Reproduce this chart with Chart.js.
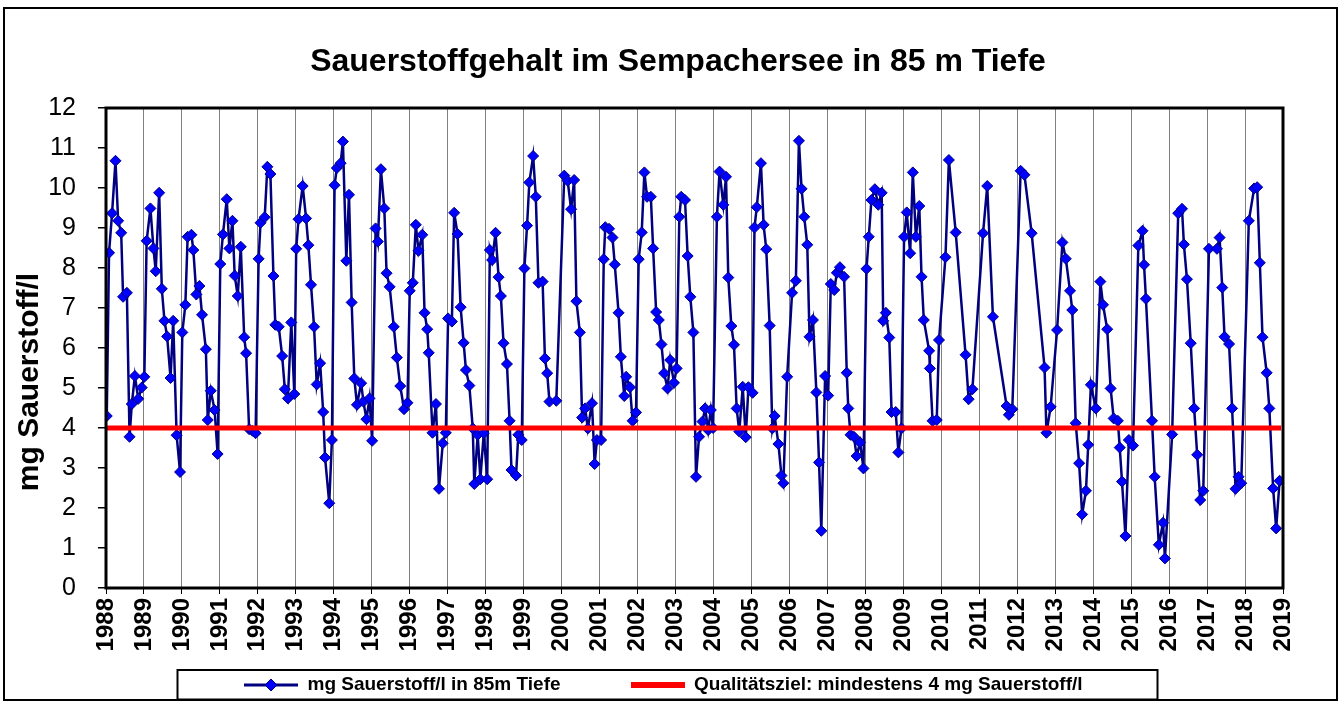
<!DOCTYPE html>
<html>
<head>
<meta charset="utf-8">
<script src="https://cdn.jsdelivr.net/npm/chart.js@4.4.1/dist/chart.umd.min.js"></script>
<style>
  html, body { margin: 0; padding: 0; background: #ffffff; }
  #wrap { position: relative; width: 1344px; height: 704px; }
</style>
</head>
<body>
<div id="wrap"><canvas id="c"></canvas></div>
<script>
// ---------- data ----------
const chartTitle = 'Sauerstoffgehalt im Sempachersee in 85 m Tiefe';
const yAxisTitle = 'mg Sauerstoff/l';
const seriesLabel = 'mg Sauerstoff/l in 85m Tiefe';
const targetLabel = 'Qualitätsziel: mindestens 4 mg Sauerstoff/l';
const yearTicks = [1988,1989,1990,1991,1992,1993,1994,1995,1996,1997,1998,1999,2000,2001,2002,2003,2004,2005,2006,2007,2008,2009,2010,2011,2012,2013,2014,2015,2016,2017,2018,2019];
const valueTicks = [0,1,2,3,4,5,6,7,8,9,10,11,12];
const targetValue = 4;
const targetSpan = [1988, 2018.95];

// sampling dates (decimal years)
const sampleDates = [
  1988.02,1988.08,1988.16,1988.25,1988.32,1988.40,1988.45,1988.55,1988.62,1988.68,1988.76,1988.85,1988.94,
  1989.01,1989.07,1989.17,1989.25,1989.31,1989.40,1989.47,1989.54,1989.61,1989.70,1989.77,1989.86,1989.95,
  1990.01,1990.09,1990.15,1990.25,1990.30,1990.38,1990.46,1990.53,1990.63,1990.68,1990.76,1990.86,1990.94,
  1991.01,1991.08,1991.18,1991.25,1991.33,1991.39,1991.47,1991.55,1991.64,1991.69,1991.77,1991.86,1991.94,
  1992.02,1992.07,1992.18,1992.25,1992.33,1992.41,1992.46,1992.55,1992.64,1992.71,1992.79,1992.88,1992.96,
  1993.01,1993.07,1993.18,1993.27,1993.33,1993.40,1993.48,1993.55,1993.64,1993.72,1993.77,1993.88,1993.95,
  1994.02,1994.08,1994.18,1994.24,1994.33,1994.40,1994.47,1994.54,1994.61,1994.72,1994.78,1994.86,1994.94,
  1995.01,1995.10,1995.16,1995.24,1995.33,1995.39,1995.47,1995.58,1995.66,1995.75,1995.85,1995.94,
  1996.00,1996.08,1996.16,1996.23,1996.33,1996.39,1996.46,1996.50,1996.60,1996.69,1996.77,1996.87,1996.95,
  1997.01,1997.11,1997.17,1997.26,1997.34,1997.42,1997.48,1997.57,1997.66,1997.70,1997.79,1997.86,1997.95,
  1998.04,1998.11,1998.17,1998.26,1998.34,1998.40,1998.47,1998.56,1998.63,1998.68,1998.80,1998.86,1998.95,
  1999.02,1999.09,1999.15,1999.25,1999.32,1999.39,1999.50,1999.56,1999.62,1999.68,1999.86,
  2000.07,2000.16,2000.25,2000.33,2000.39,2000.48,2000.54,2000.62,2000.69,2000.80,2000.87,2000.93,
  2001.04,2001.11,2001.15,2001.25,2001.34,2001.40,2001.50,2001.56,2001.65,2001.70,2001.80,2001.87,2001.96,
  2002.03,2002.11,2002.18,2002.25,2002.35,2002.41,2002.49,2002.56,2002.63,2002.70,2002.79,2002.86,2002.96,
  2003.03,2003.10,2003.15,2003.25,2003.32,2003.39,2003.47,2003.54,2003.62,2003.71,2003.78,2003.86,2003.93,2003.99,
  2004.09,2004.16,2004.26,2004.33,2004.39,2004.47,2004.54,2004.61,2004.68,2004.77,2004.85,2004.92,
  2005.03,2005.08,2005.14,2005.25,2005.32,2005.39,2005.48,2005.55,2005.61,2005.71,2005.79,2005.84,2005.94,
  2006.07,2006.17,2006.25,2006.32,2006.39,2006.47,2006.53,2006.62,2006.71,2006.78,2006.84,2006.94,
  2007.02,2007.09,2007.18,2007.25,2007.33,2007.44,2007.51,2007.55,2007.61,2007.70,2007.77,2007.86,2007.95,
  2008.03,2008.09,2008.16,2008.25,2008.34,2008.43,2008.47,2008.54,2008.63,2008.69,2008.80,2008.87,2008.95,
  2009.02,2009.09,2009.18,2009.25,2009.33,2009.42,2009.48,2009.54,2009.68,2009.70,2009.77,2009.88,2009.94,
  2010.11,2010.20,2010.38,2010.64,2010.72,2010.82,
  2011.10,2011.21,2011.36,2011.72,2011.78,2011.87,
  2012.09,2012.19,2012.38,2012.72,2012.77,2012.88,
  2013.05,2013.19,2013.28,2013.39,2013.45,2013.54,2013.63,2013.71,2013.81,2013.87,2013.94,
  2014.07,2014.19,2014.26,2014.37,2014.46,2014.54,2014.65,2014.70,2014.76,2014.85,2014.94,
  2015.05,2015.19,2015.30,2015.34,2015.39,2015.55,2015.62,2015.73,2015.84,2015.89,
  2016.08,2016.24,2016.34,2016.39,2016.47,2016.57,2016.66,2016.74,2016.82,2016.90,
  2017.05,2017.26,2017.33,2017.40,2017.46,2017.58,2017.66,2017.75,2017.83,2017.90,
  2018.10,2018.24,2018.32,2018.39,2018.46,2018.57,2018.64,2018.74,2018.82,2018.91
];

// mg O2 per litre at 85 m depth
const oxygenMgL = [
  4.30,8.38,9.37,10.68,9.18,8.88,7.28,7.38,3.78,4.60,5.30,4.73,5.01,
  5.28,8.68,9.49,8.49,7.92,9.88,7.48,6.68,6.29,5.25,6.68,3.82,2.90,
  6.39,7.08,8.78,8.83,8.45,7.34,7.55,6.83,5.97,4.20,4.93,4.45,3.35,
  8.10,8.84,9.72,8.49,9.18,7.81,7.30,8.53,6.27,5.87,3.97,3.93,3.87,
  8.23,9.13,9.27,10.53,10.35,7.80,6.58,6.53,5.80,4.97,4.74,6.64,4.85,
  8.48,9.22,10.05,9.24,8.57,7.58,6.53,5.09,5.62,4.40,3.26,2.12,3.70,
  10.07,10.50,10.62,11.16,8.18,9.83,7.14,5.24,4.58,5.12,4.66,4.22,4.74,
  3.68,8.99,8.66,10.47,9.49,7.87,7.53,6.53,5.76,5.05,4.47,4.63,
  7.43,7.63,9.08,8.43,8.83,6.88,6.47,5.88,3.88,4.60,2.48,3.62,3.88,
  6.74,6.66,9.38,8.85,7.02,6.13,5.45,5.06,3.99,2.60,3.83,2.72,3.87,
  2.72,8.45,8.20,8.88,7.77,7.30,6.12,5.60,4.18,2.95,2.81,3.83,3.70,
  7.99,9.06,10.14,10.80,9.78,7.63,7.66,5.74,5.37,4.66,4.68,
  10.31,10.18,9.47,10.20,7.17,6.39,4.26,4.49,3.99,4.62,3.10,3.70,
  3.70,8.22,9.02,8.98,8.76,8.09,6.88,5.78,4.80,5.28,5.02,4.18,4.39,
  8.22,8.89,10.39,9.78,9.78,8.49,6.90,6.70,6.09,5.37,4.99,5.70,5.13,
  5.49,9.28,9.78,9.70,8.30,7.28,6.39,2.78,3.78,4.16,4.49,3.95,4.45,4.00,
  9.28,10.41,9.58,10.28,7.76,6.55,6.08,4.49,3.91,5.03,3.77,5.02,
  4.88,9.01,9.52,10.62,9.08,8.47,6.56,3.99,4.30,3.60,2.81,2.62,5.28,
  7.38,7.68,11.18,9.98,9.28,8.58,6.28,6.70,4.89,3.14,1.43,5.30,
  4.81,7.60,7.45,7.88,8.02,7.78,5.38,4.49,3.83,3.78,3.30,3.64,2.99,
  7.98,8.78,9.70,9.97,9.58,9.88,6.68,6.88,6.26,4.40,4.40,3.39,3.99,
  8.78,9.39,8.37,10.39,8.78,9.55,7.78,6.70,5.93,5.49,4.18,4.20,6.20,
  8.27,10.70,8.89,5.83,4.72,4.97,
  8.87,10.05,6.78,4.55,4.33,4.47,
  10.43,10.33,8.87,5.51,3.88,4.53,
  6.45,8.64,8.23,7.43,6.95,4.12,3.12,1.84,2.43,3.58,5.08,
  4.49,7.66,7.08,6.47,4.99,4.24,4.18,3.51,2.66,1.30,3.70,
  3.56,8.56,8.93,8.08,7.23,4.18,2.78,1.08,1.63,0.74,
  3.84,9.37,9.48,8.59,7.72,6.12,4.49,3.33,2.20,2.43,
  8.48,8.48,8.76,7.51,6.28,6.10,4.49,2.48,2.78,2.62,
  9.18,9.99,10.02,8.13,6.27,5.38,4.49,2.49,1.49,2.68
];

// ---------- styling ----------
const FONT = "'Liberation Sans', Arial, Helvetica, sans-serif";
Chart.defaults.font.family = FONT;
Chart.defaults.color = '#000000';

function makeBlueIcon() {
  const c = document.createElement('canvas');
  c.width = 54; c.height = 16;
  const g = c.getContext('2d');
  g.strokeStyle = '#000080'; g.lineWidth = 3;
  g.beginPath(); g.moveTo(0, 8); g.lineTo(54, 8); g.stroke();
  g.beginPath();
  g.moveTo(27, 2); g.lineTo(33, 8); g.lineTo(27, 14); g.lineTo(21, 8); g.closePath();
  g.fillStyle = '#0000FF'; g.fill();
  g.lineWidth = 1; g.strokeStyle = '#000080'; g.stroke();
  return c;
}
function makeRedIcon() {
  const c = document.createElement('canvas');
  c.width = 54; c.height = 6;
  const g = c.getContext('2d');
  g.fillStyle = '#FF0000'; g.fillRect(0, 0, 54, 6);
  return c;
}
const blueIcon = makeBlueIcon();
const redIcon = makeRedIcon();

const LEG_PAD = 70;
const Y_TITLE_SHIFT = 34;

const framePlugin = {
  id: 'frame',
  beforeDraw(chart) {
    const ctx = chart.ctx;
    ctx.save();
    ctx.fillStyle = '#ffffff';
    ctx.fillRect(0, 0, chart.width, chart.height);
    ctx.restore();
  },
  afterLayout(chart) {
    const t = chart.titleBlock;
    if (t) {
      const lh = t.options.font.size * 1.2;
      t.top = 62.5 - lh / 2; t.bottom = t.top + lh;
      t.left = 678 - 620; t.right = 678 + 620;
      t.width = t.right - t.left; t.height = t.bottom - t.top;
    }
    const lg = chart.legend;
    if (lg) {
      lg.left = 244 - LEG_PAD; lg.right = 1340;
      lg.top = 685 - LEG_PAD - 9.5; lg.bottom = 704;
      lg.width = lg.right - lg.left; lg.height = lg.bottom - lg.top;
    }
    const ys = chart.scales.y;
    if (ys && !ys._titleShifted) {
      const orig = ys.drawTitle.bind(ys);
      ys.drawTitle = function () {
        const t0 = this.top;
        this.top = t0 + 2 * Y_TITLE_SHIFT;
        orig();
        this.top = t0;
      };
      ys._titleShifted = true;
    }
  },
  afterDatasetsDraw(chart) {
    const {ctx, chartArea: a} = chart;
    ctx.save();
    ctx.strokeStyle = '#000000';
    ctx.lineWidth = 3;
    ctx.strokeRect(a.left, a.top, a.right - a.left, a.bottom - a.top);
    ctx.restore();
  },
  afterDraw(chart) {
    const ctx = chart.ctx;
    ctx.save();
    ctx.strokeStyle = '#000000';
    ctx.lineWidth = 2;
    ctx.strokeRect(4, 8, 1333, 692);
    ctx.strokeRect(177.5, 670, 980, 29.5);
    ctx.restore();
  }
};

const blueData = sampleDates.map((d, i) => ({x: d, y: oxygenMgL[i]}));
const redData = targetSpan.map(d => ({x: d, y: targetValue}));

new Chart(document.getElementById('c'), {
  type: 'scatter',
  data: {
    datasets: [
      {
        label: targetLabel,
        data: redData,
        showLine: true,
        borderColor: '#FF0000',
        backgroundColor: '#FF0000',
        borderWidth: 5,
        pointRadius: 0,
        pointHoverRadius: 0
      },
      {
        label: seriesLabel,
        data: blueData,
        showLine: true,
        borderColor: '#000080',
        backgroundColor: '#0000FF',
        borderWidth: 2.5,
        tension: 0,
        pointStyle: 'rectRot',
        pointRadius: 5.5,
        pointBackgroundColor: '#0000FF',
        pointBorderColor: '#000080',
        pointBorderWidth: 1
      }
    ]
  },
  options: {
    responsive: true,
    maintainAspectRatio: false,
    animation: false,
    events: [],
    devicePixelRatio: 1,
    layout: { padding: { left: 0, right: 61, top: 108 - 32 * 1.2, bottom: 0 } },
    plugins: {
      tooltip: { enabled: false },
      title: {
        display: true,
        text: chartTitle,
        color: '#000000',
        font: { size: 32, weight: 'bold', family: FONT },
        padding: 0
      },
      legend: {
        display: true,
        position: 'bottom',
        align: 'start',
        maxHeight: 1,
        labels: {
          usePointStyle: true,
          pointStyleWidth: 54,
          boxHeight: 19,
          padding: LEG_PAD,
          color: '#000000',
          font: { size: 19, weight: 'bold', family: FONT },
          generateLabels: () => [
            { text: seriesLabel, pointStyle: blueIcon, fillStyle: '#0000FF', strokeStyle: '#000080', lineWidth: 0, hidden: false, datasetIndex: 1, fontColor: '#000000' },
            { text: targetLabel, pointStyle: redIcon, fillStyle: '#FF0000', strokeStyle: '#FF0000', lineWidth: 0, hidden: false, datasetIndex: 0, fontColor: '#000000' }
          ]
        }
      }
    },
    scales: {
      x: {
        type: 'linear',
        min: 1988,
        max: 2019,
        afterBuildTicks: s => { s.ticks = yearTicks.map(v => ({value: v})); },
        afterFit: s => { s.height = 704 - 588 - 1; },
        ticks: {
          autoSkip: false,
          maxRotation: 90,
          minRotation: 90,
          padding: 4,
          color: '#000000',
          font: { size: 24, weight: 'bold', family: FONT },
          callback: v => String(v)
        },
        grid: {
          display: true,
          drawOnChartArea: true,
          color: '#808080',
          lineWidth: 1,
          tickLength: 6,
          tickColor: '#000000'
        },
        border: { display: false }
      },
      y: {
        type: 'linear',
        min: 0,
        max: 12,
        afterBuildTicks: s => { s.ticks = valueTicks.map(v => ({value: v})); },
        afterFit: s => { s.width = 106; },
        ticks: {
          padding: 22,
          color: '#000000',
          font: { size: 25, family: FONT },
          callback: v => String(v)
        },
        grid: {
          display: true,
          drawOnChartArea: false,
          drawTicks: true,
          tickLength: 8,
          color: '#000000',
          lineWidth: 1.5
        },
        border: { display: false },
        title: {
          display: true,
          text: yAxisTitle,
          color: '#000000',
          font: { size: 30, weight: 'bold', family: FONT },
          padding: { top: 12, bottom: 0 }
        }
      }
    }
  },
  plugins: [framePlugin]
});
</script>
</body>
</html>
